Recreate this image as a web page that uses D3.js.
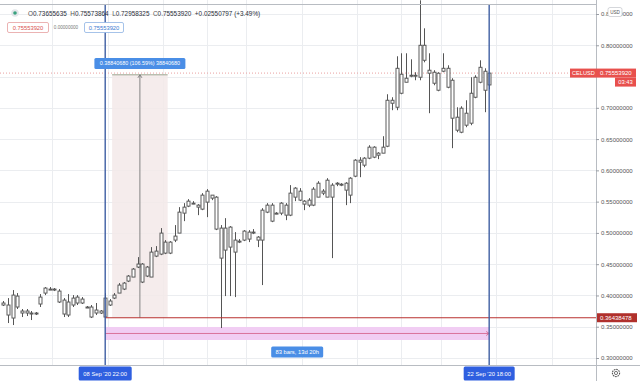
<!DOCTYPE html>
<html><head><meta charset="utf-8">
<script src="https://cdn.jsdelivr.net/npm/d3@7"></script>
<style>
body{margin:0;background:#fff}
svg{display:block}
text{font-family:"Liberation Sans",Arial,sans-serif}
</style>
</head><body>
<svg id="c" width="640" height="381"></svg>
<script>
// ---------- data ----------
const firstBar = "2020-09-05T06:00:00Z";   // 4h bars
const barHours = 4;
const opens = [
0.3879,0.3847,0.3639,0.3990,0.3751,0.3719,0.3719,0.3703,0.3863,0.4038,
0.4102,0.4086,0.4070,0.3926,0.3687,0.3847,0.3974,0.3879,0.3815,0.3815,
0.3719,0.3751,0.3655,0.3847,0.3958,0.4038,0.4102,0.4230,0.4294,0.4454,
0.4502,0.4310,0.4294,0.4629,0.4661,0.4853,0.4677,0.4885,0.4997,0.5316,
0.5428,0.5476,0.5444,0.5380,0.5492,0.5604,0.5572,0.5077,0.4725,0.5093,
0.4693,0.4869,0.4885,0.5013,0.4997,0.4933,0.4885,0.5332,0.5444,0.5300,
0.5316,0.5444,0.5284,0.5572,0.5668,0.5508,0.5444,0.5444,0.5572,0.5668,
0.5572,0.5764,0.5779,0.5764,0.5795,0.5604,0.5907,0.6163,0.6083,0.6195,
0.6371,0.6243,0.6275,0.6386,0.7121,0.7009,0.7537,0.7409,0.7505,0.7521,
0.7489,0.8000,0.7601,0.7569,0.7553,0.7585,0.7632,0.7441,0.6850,0.6610,
0.6914,0.6754,0.7169,0.7409,0.7585,0.73655635];
const highs = [
0.3911,0.3958,0.4086,0.4038,0.3783,0.3783,0.3751,0.3735,0.4022,0.4134,
0.4134,0.4118,0.4102,0.3958,0.4022,0.4006,0.4006,0.3974,0.3831,0.3847,
0.3879,0.3767,0.4038,0.3942,0.4038,0.4198,0.4214,0.4326,0.4438,0.4613,
0.4518,0.4470,0.4773,0.4789,0.5077,0.4885,0.4869,0.5125,0.5412,0.5476,
0.5540,0.5508,0.5460,0.5636,0.5700,0.5604,0.5588,0.5125,0.5236,0.5109,
0.5013,0.4901,0.5045,0.5045,0.5061,0.4949,0.5396,0.5476,0.5476,0.5332,
0.5492,0.5476,0.5764,0.5732,0.5716,0.5524,0.5556,0.5732,0.5827,0.5700,
0.5875,0.5795,0.5811,0.5795,0.5811,0.5891,0.6179,0.6211,0.6211,0.6402,
0.6386,0.6291,0.6546,0.7217,0.7169,0.7824,0.7872,0.7872,0.7776,0.7569,
0.8719,0.8271,0.7872,0.7601,0.7569,0.7872,0.7680,0.7473,0.7009,0.7025,
0.7121,0.7489,0.7521,0.7760,0.7632,0.75573864];
const lows = [
0.3831,0.3559,0.3527,0.3783,0.3655,0.3671,0.3607,0.3687,0.3815,0.4006,
0.4086,0.4070,0.3879,0.3655,0.3655,0.3815,0.3847,0.3863,0.3799,0.3639,
0.3687,0.3703,0.36438478,0.3831,0.3942,0.4038,0.4086,0.4214,0.4294,0.4438,
0.4198,0.4294,0.4294,0.4613,0.4645,0.4661,0.4661,0.4853,0.4997,0.5188,
0.5412,0.5460,0.5284,0.5364,0.5252,0.5524,0.5045,0.3479,0.3990,0.3990,
0.3974,0.4837,0.4869,0.4853,0.4981,0.4773,0.4166,0.5316,0.5172,0.5300,
0.5284,0.5204,0.5268,0.5508,0.5508,0.5364,0.5412,0.5428,0.5572,0.5604,
0.5572,0.4597,0.5748,0.5748,0.5444,0.5476,0.5891,0.5891,0.6051,0.6179,
0.6195,0.6179,0.6275,0.6371,0.6962,0.6962,0.7217,0.7409,0.7489,0.7441,
0.7441,0.7728,0.6914,0.7361,0.7265,0.7569,0.7313,0.6355,0.6610,0.6594,
0.6690,0.6722,0.7153,0.7393,0.6930,0.72958325];
const closes = [
0.3847,0.3687,0.4006,0.3815,0.3719,0.3751,0.3703,0.3719,0.3974,0.4118,
0.4086,0.4102,0.3895,0.3703,0.3895,0.3958,0.3879,0.3942,0.3799,0.3655,
0.3767,0.3719,0.3958,0.3911,0.4006,0.4166,0.4198,0.4310,0.4422,0.4502,
0.4214,0.4454,0.4693,0.4709,0.4997,0.4677,0.4853,0.4949,0.5332,0.5412,
0.5508,0.5460,0.5412,0.5604,0.5668,0.5556,0.5061,0.4597,0.5077,0.4773,
0.4885,0.4853,0.5029,0.4901,0.5013,0.4885,0.5364,0.5444,0.5188,0.5316,
0.5476,0.5284,0.5636,0.5716,0.5524,0.5460,0.5524,0.5700,0.5795,0.5636,
0.5843,0.5572,0.5795,0.5779,0.5684,0.5875,0.6163,0.6131,0.6195,0.6371,
0.6211,0.6275,0.6371,0.7121,0.7073,0.7632,0.7233,0.7473,0.7521,0.7505,
0.8000,0.7760,0.7553,0.7393,0.7281,0.7632,0.7329,0.6834,0.6642,0.6994,
0.6722,0.7233,0.7489,0.7648,0.7281,0.75553920];

const yGrid = [0.30,0.35,0.40,0.45,0.50,0.55,0.60,0.65,0.70,0.75,0.80,0.85];
const yTicks = [0.30,0.35,0.40,0.45,0.50,0.55,0.60,0.65,0.70,0.80,0.85];
const xGridTimes = ["2020-09-07T00:00Z","2020-09-09T00:00Z","2020-09-11T00:00Z","2020-09-12T14:00Z",
  "2020-09-14T00:00Z","2020-09-16T00:00Z","2020-09-18T00:00Z","2020-09-19T14:00Z",
  "2020-09-21T00:00Z","2020-09-23T00:00Z","2020-09-25T00:00Z","2020-09-26T14:00Z"];
const xTickTimes = ["2020-09-07T00:00Z","2020-09-11T00:00Z","2020-09-12T14:00Z",
  "2020-09-14T00:00Z","2020-09-16T00:00Z","2020-09-18T00:00Z","2020-09-19T14:00Z",
  "2020-09-21T00:00Z","2020-09-25T00:00Z","2020-09-26T14:00Z"];
const xTickLabels = ["7","11","14:00","14","16","18","14:00","21","25","14:00"];

const legendText = [["O","0.73655635"],["H","0.75573864"],["L","0.72958325"],["C","0.75553920"],["","+0.02550797 (+3.49%)"]];
const lastPrice = 0.75553920;
const symbol = "CELUSD";
const countdown = "03:43";
const rangeStart = "2020-09-08T22:00Z", rangeEnd = "2020-09-22T18:00Z";
const rangeLabel = "83 bars, 13d 20h";
const rangeBand = [0.3288, 0.3496];
const lowLine = 0.36438478;
const priceRange = {t0:"2020-09-09T04:00Z", t1:"2020-09-11T04:00Z", low:0.36438478, high:0.75279158,
  label:"0.38840680 (106.59%) 38840680"};
const startLabel = "08 Sep '20   22:00", endLabel = "22 Sep '20   18:00";

// ---------- chart ----------
const svg = d3.select("#c");
const PR = 596, PB = 365;
const x = d3.scaleUtc().domain([new Date("2020-09-07T00:00Z"), new Date("2020-09-21T00:00Z")]).range([52, 440.6]);
const y = d3.scaleLinear().domain([0.30, 0.85]).range([358, 14]);
const t0 = new Date(firstBar).getTime();
const bars = opens.map((o,i)=>({t:new Date(t0 + i*barHours*3600e3), o, h:highs[i], l:lows[i], c:closes[i]}));

svg.append("rect").attr("width",640).attr("height",381).attr("fill","#fff");
const defs = svg.append("defs");
defs.append("clipPath").attr("id","plot").append("rect").attr("x",0).attr("y",0).attr("width",PR).attr("height",PB);
defs.append("clipPath").attr("id","xlab").append("rect").attr("x",0).attr("y",PB).attr("width",PR).attr("height",16);

const plot = svg.append("g").attr("clip-path","url(#plot)");
// grid
plot.append("g").selectAll("line").data(yGrid).join("line")
  .attr("x1",0).attr("x2",PR).attr("y1",d=>Math.round(y(d))+0.5).attr("y2",d=>Math.round(y(d))+0.5)
  .attr("stroke","#ebedf0").attr("stroke-width",1);
plot.append("g").selectAll("line").data(xGridTimes).join("line")
  .attr("x1",d=>Math.round(x(new Date(d)))+0.5).attr("x2",d=>Math.round(x(new Date(d)))+0.5)
  .attr("y1",0).attr("y2",PB).attr("stroke","#ebedf0").attr("stroke-width",1);

// top border
svg.append("line").attr("x1",0).attr("x2",PR).attr("y1",4.5).attr("y2",4.5).attr("stroke","#b8bcc2");

// price range tool
const prx0 = x(new Date(priceRange.t0)), prx1 = x(new Date(priceRange.t1)), prm = (prx0+prx1)/2;
plot.append("rect").attr("x",prx0).attr("y",y(priceRange.high)).attr("width",prx1-prx0)
  .attr("height",y(priceRange.low)-y(priceRange.high)).attr("fill","#f3e9e9").attr("opacity",0.85);
plot.append("line").attr("x1",prx0).attr("x2",prx1).attr("y1",y(priceRange.high)).attr("y2",y(priceRange.high))
  .attr("stroke","#9aa590").attr("stroke-width",1);
plot.append("line").attr("x1",prm).attr("x2",prm).attr("y1",y(priceRange.high)).attr("y2",y(priceRange.low))
  .attr("stroke","#777").attr("stroke-width",0.9);
plot.append("path").attr("d",`M${prm-2},${y(priceRange.high)+3}L${prm},${y(priceRange.high)}L${prm+2},${y(priceRange.high)+3}`)
  .attr("fill","none").attr("stroke","#777").attr("stroke-width",0.9);

// date range band
const rx0 = x(new Date(rangeStart)), rx1 = x(new Date(rangeEnd));
plot.append("rect").attr("x",rx0).attr("y",y(rangeBand[1])).attr("width",rx1-rx0)
  .attr("height",y(rangeBand[0])-y(rangeBand[1])).attr("fill","#f1cdf3");
const bm = y((rangeBand[0]+rangeBand[1])/2);
plot.append("line").attr("x1",rx0).attr("x2",rx1).attr("y1",bm).attr("y2",bm).attr("stroke","#d9739c").attr("stroke-width",1);
plot.append("path").attr("d",`M${rx1-3},${bm-2}L${rx1},${bm}L${rx1-3},${bm+2}`).attr("fill","none").attr("stroke","#d9739c");

// current price dotted line
plot.append("line").attr("x1",0).attr("x2",PR).attr("y1",y(lastPrice)).attr("y2",y(lastPrice))
  .attr("stroke","#e9a0a0").attr("stroke-dasharray","1,2").attr("stroke-width",1);

// candles
const cg = plot.append("g");
const cx = d => Math.round(x(d.t))+0.5;
cg.selectAll("line").data(bars).join("line")
  .attr("x1",cx).attr("x2",cx).attr("y1",d=>y(d.h)).attr("y2",d=>y(d.l))
  .attr("stroke","#555").attr("stroke-width",1);
cg.selectAll("rect").data(bars).join("rect")
  .attr("x",d=>cx(d)-1.5).attr("width",3)
  .attr("y",d=>Math.min(y(d.o),y(d.c)))
  .attr("height",d=>Math.max(1,Math.abs(y(d.o)-y(d.c))))
  .attr("fill","#fff").attr("stroke","#555").attr("stroke-width",0.95);

// low horizontal line
plot.append("line").attr("x1",rx0).attr("x2",PR).attr("y1",y(lowLine)).attr("y2",y(lowLine))
  .attr("stroke","#b8312f").attr("stroke-width",1.1);

// blue vertical lines
[rangeStart, rangeEnd].forEach(t=>{
  plot.append("line").attr("x1",x(new Date(t))).attr("x2",x(new Date(t))).attr("y1",4).attr("y2",PB)
    .attr("stroke","#3f5fa3").attr("stroke-width",1.4);
});

// labels inside plot
function box(g, cxp, cyp, w, h, fill, txt, fs, col, stroke){
  g.append("rect").attr("x",cxp-w/2).attr("y",cyp-h/2).attr("width",w).attr("height",h).attr("rx",1.5)
    .attr("fill",fill).attr("stroke",stroke||"none");
  g.append("text").attr("x",cxp).attr("y",cyp).attr("dy","0.35em").attr("text-anchor","middle")
    .attr("font-size",fs).attr("fill",col).text(txt);
}
box(svg, prm, 63.5, 91, 11, "#4a8ee6", priceRange.label, 5.4, "#fff");
box(svg, (rx0+rx1)/2, 352, 52, 11, "#4a8ee6", rangeLabel, 5.8, "#fff");

// axes area
svg.append("line").attr("x1",PR+0.5).attr("x2",PR+0.5).attr("y1",0).attr("y2",381).attr("stroke","#b8bcc2");
svg.append("line").attr("x1",0).attr("x2",640).attr("y1",PB+0.5).attr("y2",PB+0.5).attr("stroke","#b8bcc2");

const ya = svg.append("g").attr("transform",`translate(${PR},0)`)
  .call(d3.axisRight(y).tickValues(yTicks).tickFormat(d3.format(".8f")).tickSize(3).tickPadding(2));
ya.select(".domain").remove();
ya.selectAll("line").attr("stroke","#9a9ea5");
ya.selectAll("text").attr("font-size",6).attr("fill","#555").attr("font-family","Liberation Sans, Arial, sans-serif");

const xa = svg.append("g").attr("transform",`translate(0,${PB})`).attr("clip-path","url(#xlab)")
  .call(d3.axisBottom(x).tickValues(xTickTimes.map(d=>new Date(d))).tickFormat((d,i)=>xTickLabels[i]).tickSize(0).tickPadding(6));
xa.select(".domain").remove();
xa.selectAll("text").attr("font-size",6).attr("fill","#555").attr("font-family","Liberation Sans, Arial, sans-serif");

// date labels on x axis
box(svg, x(new Date(rangeStart)), 373.5, 53, 14, "#2f5fe0", startLabel, 5.8, "#fff");
box(svg, x(new Date(rangeEnd)), 373.5, 51, 14, "#2f5fe0", endLabel, 5.8, "#fff");

// price labels on y axis
const ly = y(lastPrice);
svg.append("rect").attr("x",570).attr("y",ly-4.5).attr("width",66).attr("height",9).attr("fill","#e8504d");
svg.append("text").attr("x",572).attr("y",ly).attr("dy","0.35em").attr("font-size",5.6).attr("fill","#fff").text(symbol);
svg.append("text").attr("x",600).attr("y",ly).attr("dy","0.35em").attr("font-size",6).attr("fill","#fff").text(d3.format(".8f")(lastPrice));
svg.append("rect").attr("x",615).attr("y",ly+4.5).attr("width",21).attr("height",9).attr("fill","#e8504d");
svg.append("text").attr("x",625.5).attr("y",ly+9).attr("dy","0.35em").attr("text-anchor","middle").attr("font-size",5.8).attr("fill","#fff").text(countdown);

const lly = y(lowLine);
svg.append("rect").attr("x",597).attr("y",lly-4.5).attr("width",40).attr("height",9).attr("fill","#b0302c");
svg.append("text").attr("x",600).attr("y",lly).attr("dy","0.35em").attr("font-size",6).attr("fill","#fff").text(d3.format(".8f")(lowLine));

// USD badge
svg.append("rect").attr("x",608).attr("y",7.5).attr("width",14).attr("height",9).attr("rx",2).attr("fill","#fff").attr("stroke","#c3c6cc").attr("stroke-width",0.7);
svg.append("text").attr("x",615).attr("y",12).attr("dy","0.35em").attr("text-anchor","middle").attr("font-size",4.6).attr("fill","#555").text("USD");

// gear icon
const gear = svg.append("g").attr("transform","translate(616,373)");
gear.append("circle").attr("r",3.6).attr("fill","none").attr("stroke","#555").attr("stroke-width",1.1).attr("stroke-dasharray","1.6,0.8");
gear.append("circle").attr("r",1.6).attr("fill","none").attr("stroke","#555").attr("stroke-width",0.8);

// legend
svg.append("circle").attr("cx",15).attr("cy",13).attr("r",3.8).attr("fill","#e3e6ea");
svg.append("circle").attr("cx",15).attr("cy",13).attr("r",1.8).attr("fill","#3aa17e");
const lt = svg.append("text").attr("x",28).attr("y",16).attr("font-size",6.4);
legendText.forEach(([k,v],i)=>{
  if(k) lt.append("tspan").attr("fill","#555").attr("dx", i? 3.5:0).text(k);
  lt.append("tspan").attr("fill","#2a2e39").attr("dx", k?0:3.5).text(v);
});
svg.append("rect").attr("x",7.5).attr("y",22.5).attr("width",41).attr("height",10).attr("rx",1.5).attr("fill","#fff").attr("stroke","#e6a0a0").attr("stroke-width",0.8);
svg.append("text").attr("x",28).attr("y",27.5).attr("dy","0.35em").attr("text-anchor","middle").attr("font-size",5.8).attr("fill","#d9534f").text(d3.format(".8f")(lastPrice));
svg.append("text").attr("x",66).attr("y",27.5).attr("dy","0.35em").attr("text-anchor","middle").attr("font-size",4.6).attr("fill","#777").text("0.00000000");
svg.append("rect").attr("x",84.5).attr("y",22.5).attr("width",39).attr("height",10).attr("rx",1.5).attr("fill","#fff").attr("stroke","#8fb4e3").attr("stroke-width",0.8);
svg.append("text").attr("x",104).attr("y",27.5).attr("dy","0.35em").attr("text-anchor","middle").attr("font-size",5.8).attr("fill","#3b7bd0").text(d3.format(".8f")(lastPrice));
</script>
</body></html>
